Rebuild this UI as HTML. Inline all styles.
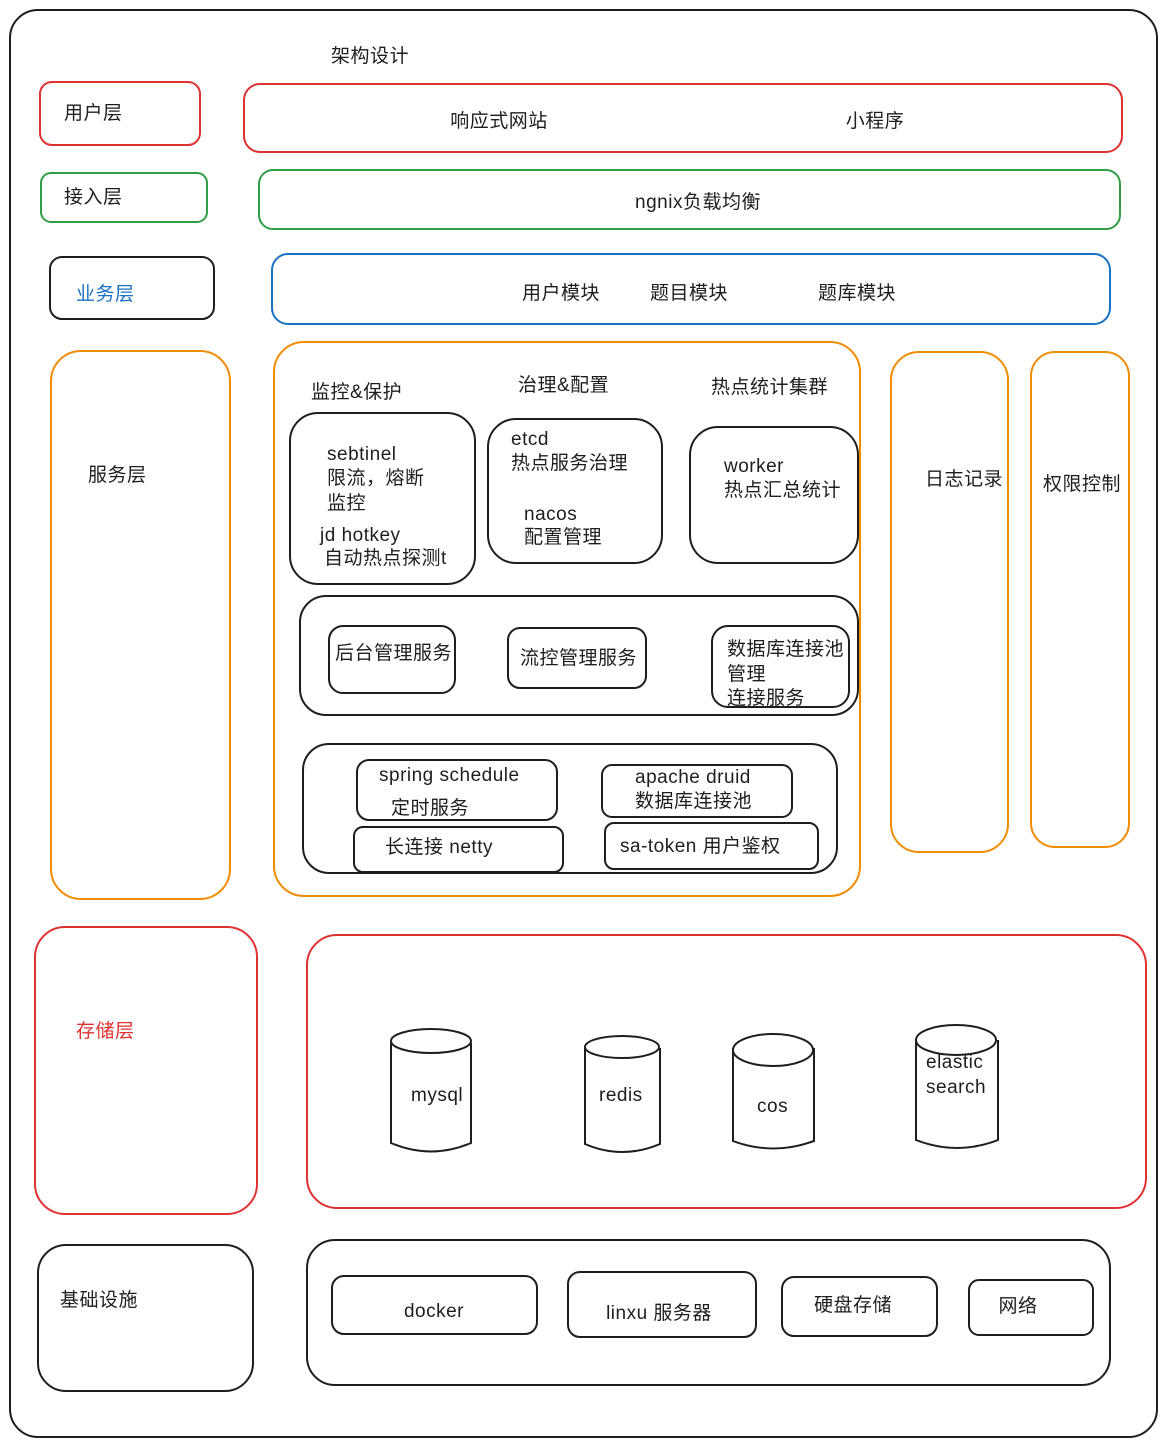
<!DOCTYPE html>
<html><head><meta charset="utf-8"><style>
html,body{margin:0;padding:0;background:#fff;}
svg text{font-family:"Liberation Sans","Noto Sans CJK SC",sans-serif;font-size:19px;letter-spacing:0.5px;fill:#1e1e1e;}
</style></head><body>
<svg width="1167" height="1446" xmlns="http://www.w3.org/2000/svg">
<g fill="none" stroke-width="2">
<rect x="10" y="10" width="1147" height="1427" rx="28" stroke="#1e1e1e"/>
<rect x="40" y="82" width="160" height="63" rx="12" stroke="#e03131"/>
<rect x="244" y="84" width="878" height="68" rx="16" stroke="#e03131"/>
<rect x="41" y="173" width="166" height="49" rx="10" stroke="#2f9e44"/>
<rect x="259" y="170" width="861" height="59" rx="14" stroke="#2f9e44"/>
<rect x="50" y="257" width="164" height="62" rx="12" stroke="#1e1e1e"/>
<rect x="272" y="254" width="838" height="70" rx="16" stroke="#1971c2"/>
<rect x="51" y="351" width="179" height="548" rx="30" stroke="#f08c00"/>
<rect x="274" y="342" width="586" height="554" rx="30" stroke="#f08c00"/>
<rect x="290" y="413" width="185" height="171" rx="28" stroke="#1e1e1e"/>
<rect x="488" y="419" width="174" height="144" rx="28" stroke="#1e1e1e"/>
<rect x="690" y="427" width="168" height="136" rx="28" stroke="#1e1e1e"/>
<rect x="300" y="596" width="558" height="119" rx="26" stroke="#1e1e1e"/>
<rect x="329" y="626" width="126" height="67" rx="14" stroke="#1e1e1e"/>
<rect x="508" y="628" width="138" height="60" rx="12" stroke="#1e1e1e"/>
<rect x="712" y="626" width="137" height="81" rx="16" stroke="#1e1e1e"/>
<rect x="303" y="744" width="534" height="129" rx="26" stroke="#1e1e1e"/>
<rect x="357" y="760" width="200" height="60" rx="12" stroke="#1e1e1e"/>
<rect x="602" y="765" width="190" height="52" rx="10" stroke="#1e1e1e"/>
<rect x="354" y="827" width="209" height="45" rx="9" stroke="#1e1e1e"/>
<rect x="605" y="823" width="213" height="46" rx="9" stroke="#1e1e1e"/>
<rect x="891" y="352" width="117" height="500" rx="28" stroke="#f08c00"/>
<rect x="1031" y="352" width="98" height="495" rx="24" stroke="#f08c00"/>
<rect x="35" y="927" width="222" height="287" rx="30" stroke="#e03131"/>
<rect x="307" y="935" width="839" height="273" rx="30" stroke="#e03131"/>
<rect x="38" y="1245" width="215" height="146" rx="28" stroke="#1e1e1e"/>
<rect x="307" y="1240" width="803" height="145" rx="28" stroke="#1e1e1e"/>
<rect x="332" y="1276" width="205" height="58" rx="12" stroke="#1e1e1e"/>
<rect x="568" y="1272" width="188" height="65" rx="12" stroke="#1e1e1e"/>
<rect x="782" y="1277" width="155" height="59" rx="12" stroke="#1e1e1e"/>
<rect x="969" y="1280" width="124" height="55" rx="10" stroke="#1e1e1e"/>
<g stroke="#1e1e1e">
<path d="M391 1043 V1143 Q431 1160 471 1143 V1043"/><ellipse cx="431" cy="1041" rx="40" ry="12"/>
<path d="M585 1048 V1144 Q622 1160 660 1144 V1048"/><ellipse cx="622" cy="1047" rx="37" ry="11"/>
<path d="M733 1048 V1141 Q773 1156 814 1141 V1048"/><ellipse cx="773" cy="1050" rx="40" ry="16"/>
<path d="M916 1040 V1140 Q957 1156 998 1140 V1040"/><ellipse cx="956" cy="1040" rx="40" ry="15"/>
</g>
</g>
<text x="331" y="62">架构设计</text>
<text x="64" y="119">用户层</text>
<text x="499" y="127" text-anchor="middle">响应式网站</text>
<text x="875" y="127" text-anchor="middle">小程序</text>
<text x="64" y="203">接入层</text>
<text x="698" y="208" text-anchor="middle">ngnix负载均衡</text>
<text x="76" y="300" style="fill:#1971c2">业务层</text>
<text x="561" y="299" text-anchor="middle">用户模块</text>
<text x="689" y="299" text-anchor="middle">题目模块</text>
<text x="857" y="299" text-anchor="middle">题库模块</text>
<text x="88" y="481">服务层</text>
<text x="311" y="398">监控&amp;保护</text>
<text x="518" y="391">治理&amp;配置</text>
<text x="711" y="393">热点统计集群</text>
<text x="327" y="460">sebtinel</text>
<text x="327" y="484">限流，熔断</text>
<text x="327" y="509">监控</text>
<text x="320" y="541">jd hotkey</text>
<text x="324" y="564">自动热点探测t</text>
<text x="511" y="445">etcd</text>
<text x="511" y="469">热点服务治理</text>
<text x="524" y="520">nacos</text>
<text x="524" y="543">配置管理</text>
<text x="724" y="472">worker</text>
<text x="724" y="496">热点汇总统计</text>
<text x="335" y="659">后台管理服务</text>
<text x="520" y="664">流控管理服务</text>
<text x="727" y="655">数据库连接池</text>
<text x="727" y="680">管理</text>
<text x="727" y="704">连接服务</text>
<text x="379" y="781">spring schedule</text>
<text x="391" y="814">定时服务</text>
<text x="635" y="783">apache druid</text>
<text x="635" y="807">数据库连接池</text>
<text x="385" y="853">长连接   netty</text>
<text x="620" y="852">sa-token 用户鉴权</text>
<text x="925" y="485">日志记录</text>
<text x="1043" y="490">权限控制</text>
<text x="76" y="1037" style="fill:#e03131">存储层</text>
<text x="411" y="1101">mysql</text>
<text x="599" y="1101">redis</text>
<text x="757" y="1112">cos</text>
<text x="926" y="1068">elastic</text>
<text x="926" y="1093">search</text>
<text x="60" y="1306">基础设施</text>
<text x="434" y="1317" text-anchor="middle">docker</text>
<text x="659" y="1319" text-anchor="middle">linxu 服务器</text>
<text x="853" y="1311" text-anchor="middle">硬盘存储</text>
<text x="1018" y="1312" text-anchor="middle">网络</text>
</svg>
</body></html>
